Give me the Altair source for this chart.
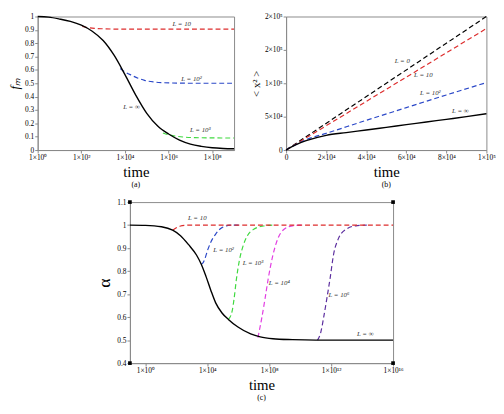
import json
import altair as alt
import pandas as pd

FONT = "Liberation Serif"
GRAY = "#8a8a8a"
RED, BLUE, GREEN, MAGENTA, PURPLE = "#dd2c2c", "#2b48c8", "#3fd93f", "#e23de2", "#5b2d9e"

# ---------------- panel (a): f_m vs time (log10 time readings) ----------------
a_inf_logt = [0, 0.5, 1, 1.5, 2, 2.5, 3, 3.5, 4, 4.5, 5, 5.5, 6, 6.5, 7, 7.5, 8, 8.5, 9]
a_inf_f = [1.0, 0.995, 0.981, 0.963, 0.935, 0.89, 0.82, 0.71, 0.565, 0.41, 0.275, 0.18, 0.12, 0.075, 0.045, 0.028, 0.017, 0.012, 0.01]
a_L10_logt = [2.04, 2.3, 2.6, 3.0, 3.5, 4, 5, 6, 7, 8, 9]
a_L10_f = [0.925, 0.917, 0.911, 0.908, 0.906, 0.905, 0.905, 0.905, 0.905, 0.905, 0.905]
a_L100_logt = [3.78, 4.0, 4.3, 4.6, 4.9, 5.3, 5.8, 6.5, 7.5, 9]
a_L100_f = [0.61, 0.585, 0.56, 0.538, 0.522, 0.51, 0.504, 0.501, 0.5, 0.5]
a_L1000_logt = [5.74, 6.0, 6.3, 6.7, 7.2, 8.0, 9.0]
a_L1000_f = [0.128, 0.115, 0.105, 0.097, 0.093, 0.091, 0.09]
a_xticks = [1, 1e2, 1e4, 1e6, 1e8]
a_xlabels = ["1×10⁰", "1×10²", "1×10⁴", "1×10⁶", "1×10⁸"]
a_yticks = [0, 0.1, 0.2, 0.3, 0.4, 0.5, 0.6, 0.7, 0.8, 0.9, 1.0]
a_notes = ["L = 10", "L = 10²", "L = ∞", "L = 10³"]
a_notes_logt = [6.6, 7.05, 4.3, 7.45]
a_notes_f = [0.94, 0.53, 0.32, 0.15]

# ---------------- panel (b): <x^2> vs time ----------------
b_L0_t = [0, 1e5]
b_L0_v = [0, 2e5]
b_L10_t = [0, 1e5]
b_L10_v = [0, 1.82e5]
b_L100_t = [0, 2e3, 5e3, 1e4, 2e4, 4e4, 6e4, 8e4, 1e5]
b_L100_v = [0, 3.7e3, 8.4e3, 1.55e4, 2.5e4, 4.45e4, 6.35e4, 8.25e4, 1.01e5]
b_inf_t = [0, 2e3, 5e3, 1e4, 2e4, 3e4, 4e4, 5e4, 6e4, 7e4, 8e4, 9e4, 1e5]
b_inf_v = [0, 3.6e3, 8.2e3, 1.4e4, 2.2e4, 2.62e4, 3.0e4, 3.4e4, 3.8e4, 4.2e4, 4.6e4, 5.0e4, 5.45e4]
b_xticks = [0, 2e4, 4e4, 6e4, 8e4, 1e5]
b_xlabels = ["0", "2×10⁴", "4×10⁴", "6×10⁴", "8×10⁴", "1×10⁵"]
b_yticks = [0, 5e4, 1e5, 1.5e5, 2e5]
b_ylabels = ["0", "5×10⁴", "1×10⁵", "2×10⁵", "2×10⁵"]
b_notes = ["L = 0", "L = 10", "L = 10²", "L = ∞"]
b_notes_t = [5.8e4, 6.85e4, 7.2e4, 8.7e4]
b_notes_v = [1.33e5, 1.13e5, 8.5e4, 5.9e4]

# ---------------- panel (c): alpha vs time (log10 time readings) ----------------
c_inf_logt = [-1, 0, 1.04, 1.76, 2.27, 2.79, 3.3, 3.61, 3.92, 4.23, 4.54, 4.95, 5.36, 5.98, 6.8, 7.42, 8.24, 9.5, 11, 13, 16]
c_inf_a = [1.0, 0.999, 0.993, 0.978, 0.954, 0.915, 0.87, 0.83, 0.776, 0.716, 0.662, 0.618, 0.59, 0.557, 0.527, 0.514, 0.506, 0.502, 0.5, 0.5, 0.5]
c_L10_logt = [1.76, 2.0, 2.27, 2.6, 2.89, 3.5, 16]
c_L10_a = [0.978, 0.988, 0.996, 0.999, 1.0, 1.0, 1.0]
c_L1e2_logt = [3.61, 3.72, 3.82, 4.02, 4.23, 4.54, 4.95, 5.57, 6.2]
c_L1e2_a = [0.83, 0.836, 0.849, 0.891, 0.926, 0.961, 0.989, 1.0, 1.0]
c_L1e3_logt = [5.36, 5.6, 5.73, 5.88, 6.08, 6.29, 6.59, 7.0, 7.62, 8.2]
c_L1e3_a = [0.59, 0.625, 0.68, 0.765, 0.849, 0.905, 0.954, 0.982, 0.996, 1.0]
c_L1e4_logt = [7.27, 7.52, 7.73, 7.93, 8.24, 8.55, 8.96, 9.58, 10.2]
c_L1e4_a = [0.511, 0.597, 0.68, 0.765, 0.87, 0.94, 0.982, 0.998, 1.0]
c_L1e6_logt = [11.12, 11.33, 11.53, 11.74, 11.94, 12.15, 12.46, 12.97, 13.69, 14.3]
c_L1e6_a = [0.5, 0.534, 0.604, 0.688, 0.772, 0.87, 0.94, 0.982, 0.998, 1.0]
c_xticks = [1, 1e4, 1e8, 1e12, 1e16]
c_xlabels = ["1×10⁰", "1×10⁴", "1×10⁸", "1×10¹²", "1×10¹⁶"]
c_yticks = [0.4, 0.5, 0.6, 0.7, 0.8, 0.9, 1.0, 1.1]
c_notes = ["L = 10", "L = 10²", "L = 10³", "L = 10⁴", "L = 10⁶", "L = ∞"]
c_notes_logt = [3.35, 5.05, 6.95, 8.65, 12.5, 14.2]
c_notes_a = [1.03, 0.89, 0.836, 0.747, 0.695, 0.526]
c_corner_t = [0.1, 0.1, 1e16, 1e16]
c_corner_a = [0.4, 1.1, 0.4, 1.1]


def lab_expr(labels, index_expr):
    return json.dumps(labels, ensure_ascii=False) + "[" + index_expr + "]"


def line(t, v, color, x, y, dashed=True, width=1.2):
    df = pd.DataFrame({"t": t, "v": v})
    kw = dict(color=color, strokeWidth=width, interpolate="monotone")
    if dashed:
        kw["strokeDash"] = [5, 3]
    return alt.Chart(df).mark_line(**kw).encode(x=x, y=y)


def notes(t, v, text, x, y):
    df = pd.DataFrame({"t": t, "v": v, "s": text})
    return alt.Chart(df).mark_text(font=FONT, fontSize=7, fontStyle="italic", color="#333").encode(
        x=x, y=y, text="s:N")


def pw(logt):
    return [10.0 ** d for d in logt]


# ---- (a)
ax = alt.X("t:Q", scale=alt.Scale(type="log", domain=[1, 1e9], nice=False),
           axis=alt.Axis(values=a_xticks, labelExpr=lab_expr(a_xlabels, "round(log(datum.value)/LN10/2)"),
                         title="time"))
ay = alt.Y("v:Q", scale=alt.Scale(domain=[0, 1], nice=False),
           axis=alt.Axis(values=a_yticks, format=".1~f", title="fₘ", titleFontStyle="italic",
                         titleFontSize=13))
panel_a = alt.layer(
    line(pw(a_L10_logt), a_L10_f, RED, ax, ay),
    line(pw(a_L100_logt), a_L100_f, BLUE, ax, ay),
    line(pw(a_L1000_logt), a_L1000_f, GREEN, ax, ay),
    line(pw(a_inf_logt), a_inf_f, "black", ax, ay, dashed=False, width=1.4),
    notes(pw(a_notes_logt), a_notes_f, a_notes, ax, ay),
).properties(width=200, height=136,
             title=alt.TitleParams("(a)", orient="bottom", fontSize=8, font=FONT,
                                   fontWeight="normal", offset=2, frame="group"))

# ---- (b)
bx = alt.X("t:Q", scale=alt.Scale(domain=[0, 1e5], nice=False),
           axis=alt.Axis(values=b_xticks, labelExpr=lab_expr(b_xlabels, "round(datum.value/20000)"),
                         title="time"))
by = alt.Y("v:Q", scale=alt.Scale(domain=[0, 2e5], nice=False),
           axis=alt.Axis(values=b_yticks, labelExpr=lab_expr(b_ylabels, "round(datum.value/50000)"),
                         title="< x² >", titleFontSize=11))
panel_b = alt.layer(
    line(b_L0_t, b_L0_v, "black", bx, by),
    line(b_L10_t, b_L10_v, RED, bx, by),
    line(b_L100_t, b_L100_v, BLUE, bx, by),
    line(b_inf_t, b_inf_v, "black", bx, by, dashed=False, width=1.4),
    notes(b_notes_t, b_notes_v, b_notes, bx, by),
).properties(width=204, height=136,
             title=alt.TitleParams("(b)", orient="bottom", fontSize=8, font=FONT,
                                   fontWeight="normal", offset=2, frame="group"))

# ---- (c)
cx = alt.X("t:Q", scale=alt.Scale(type="log", domain=[0.1, 1e16], nice=False),
           axis=alt.Axis(values=c_xticks, labelExpr=lab_expr(c_xlabels, "round(log(datum.value)/LN10/4)"),
                         title="time"))
cy = alt.Y("v:Q", scale=alt.Scale(domain=[0.4, 1.1], nice=False, zero=False),
           axis=alt.Axis(values=c_yticks, format=".1~f", title="α", titleFontSize=18))
corner_df = pd.DataFrame({"t": c_corner_t, "v": c_corner_a})
panel_c = alt.layer(
    line(pw(c_L1e2_logt), c_L1e2_a, BLUE, cx, cy),
    line(pw(c_L1e3_logt), c_L1e3_a, GREEN, cx, cy),
    line(pw(c_L1e4_logt), c_L1e4_a, MAGENTA, cx, cy),
    line(pw(c_L1e6_logt), c_L1e6_a, PURPLE, cx, cy),
    line(pw(c_L10_logt), c_L10_a, RED, cx, cy),
    line(pw(c_inf_logt), c_inf_a, "black", cx, cy, dashed=False, width=1.4),
    notes(pw(c_notes_logt), c_notes_a, c_notes, cx, cy),
    alt.Chart(corner_df).mark_square(size=14, color="black", opacity=1).encode(x=cx, y=cy),
).properties(width=268, height=164,
             title=alt.TitleParams("(c)", orient="bottom", fontSize=8, font=FONT,
                                   fontWeight="normal", offset=2, frame="group"))

row1 = alt.hconcat(panel_a, panel_b, spacing=12)
chart = alt.vconcat(row1, panel_c, spacing=8, center=True).properties(padding=0)
chart = chart.configure_view(stroke=GRAY, strokeWidth=1).configure_axis(
    labelFont=FONT, labelFontSize=7.5, labelColor="black", labelPadding=1,
    titleFont=FONT, titleFontWeight="normal", titleColor="black", titleFontSize=15,
    titlePadding=3, domainColor=GRAY, tickColor=GRAY, tickSize=3, grid=False,
    labelFlush=False, labelOverlap=False,
)

chart.save("out.html", embed_options={"renderer": "svg", "actions": False})
